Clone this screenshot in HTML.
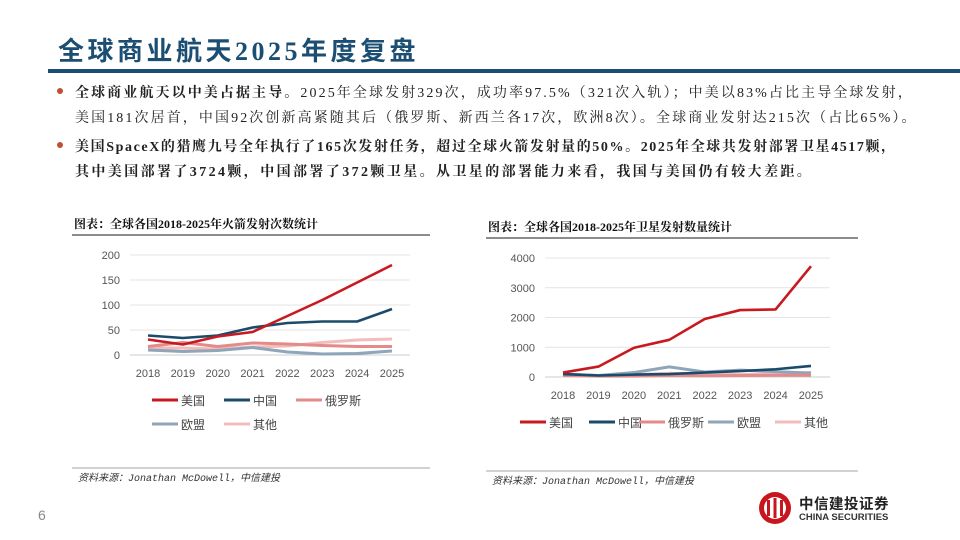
<!DOCTYPE html>
<html><head><meta charset="utf-8"><style>
body{margin:0;width:960px;height:540px;background:#fff;position:relative;overflow:hidden;font-family:"Liberation Sans","Noto Sans CJK SC",sans-serif}
.abs{position:absolute}
.title{left:58px;top:31px;font-size:26px;color:#1b4e72;font-family:"Liberation Serif","Noto Sans CJK SC",serif;font-weight:bold;letter-spacing:3.5px}
.bar{left:48px;top:69px;width:912px;height:4px;background:#1b4e72}
.bl{left:75px;font-size:14px;color:#222;font-family:"Liberation Serif","Noto Serif CJK SC",serif;white-space:nowrap;letter-spacing:2.1px}
.dot{width:6px;height:6px;border-radius:3px;background:#c0502f}
b{font-weight:bold}
</style></head><body>
<div class="abs title">全球商业航天2025年度复盘</div>
<div class="abs bar"></div>
<div class="abs dot" style="left:57px;top:88px"></div>
<div class="abs bl" style="top:82px"><b>全球商业航天以中美占据主导。</b>2025年全球发射329次，成功率97.5%（321次入轨）；中美以83%占比主导全球发射，</div>
<div class="abs bl" style="top:107px">美国181次居首，中国92次创新高紧随其后（俄罗斯、新西兰各17次，欧洲8次）。全球商业发射达215次（占比65%）。</div>
<div class="abs dot" style="left:57px;top:142px"></div>
<div class="abs bl" style="top:136px;font-weight:bold;letter-spacing:1.6px">美国SpaceX的猎鹰九号全年执行了165次发射任务，超过全球火箭发射量的50%。2025年全球共发射部署卫星4517颗，</div>
<div class="abs bl" style="top:161px;font-weight:bold;letter-spacing:2.4px">其中美国部署了3724颗，中国部署了372颗卫星。从卫星的部署能力来看，我国与美国仍有较大差距。</div>

<svg class="abs" style="left:0;top:0" width="960" height="540" id="svg"></svg>

<div class="abs" style="left:38px;top:507px;font-size:14px;color:#888">6</div>
<div class="abs" style="left:758px;top:491px">
<svg width="34" height="34"><circle cx="17" cy="17" r="16" fill="#c8161d"/><circle cx="17" cy="17" r="11" fill="#fff"/><rect x="9" y="9" width="3" height="16" fill="#c8161d"/><rect x="15.5" y="7" width="3" height="20" fill="#c8161d"/><rect x="22" y="9" width="3" height="16" fill="#c8161d"/></svg>
<div class="abs" style="left:41px;top:2px;font-size:14.5px;font-weight:bold;white-space:nowrap;color:#222;letter-spacing:0.5px">中信建投证券</div>
<div class="abs" style="left:41px;top:21px;font-size:9.5px;font-weight:bold;white-space:nowrap;color:#333">CHINA SECURITIES</div>
</div>
<script>
const years=['2018','2019','2020','2021','2022','2023','2024','2025'];
const seriesNames=['美国','中国','俄罗斯','欧盟','其他'];
const colors=['#c8191f','#1b4a6b','#e48a8a','#8fa5b8','#f3bcbc'];
const launchUS=[31,21,37,46,78,110,145,180];
const launchCN=[39,34,39,55,64,67,67,92];
const launchRU=[17,25,17,24,22,19,17,17];
const launchEU=[10,7,9,15,6,2,3,8];
const launchOT=[14,14,12,16,18,25,30,32];
const launchTicks=[0,50,100,150,200];
const satUS=[150,350,980,1250,1950,2250,2270,3724];
const satCN=[100,50,80,100,150,200,260,372];
const satRU=[50,30,30,50,40,50,60,60];
const satEU=[100,50,150,340,170,230,180,130];
const satOT=[90,50,80,120,100,80,100,150];
const satTicks=[0,1000,2000,3000,4000];
const NS='http://www.w3.org/2000/svg';
const svg=document.getElementById('svg');
function mk(t,a,txt){const e=document.createElementNS(NS,t);for(const k in a)e.setAttribute(k,a[k]);if(txt!==undefined)e.textContent=txt;svg.appendChild(e);return e;}
function chart(o){
  const sx=i=>o.x0+(o.x1-o.x0)*i/(years.length-1);
  const sy=v=>o.y0-(o.y0-o.y1)*v/o.max;
  let t=mk('text',{x:o.tx,y:o.ty,'font-size':12,'font-weight':'bold',fill:'#111','font-family':'"Liberation Serif","Noto Serif CJK SC",serif'},o.title);
  
  let u=mk('line',{x1:o.tx-2,x2:o.rx,y1:o.ty+7,y2:o.ty+7,stroke:'#666','stroke-width':1.5});
  
  o.ticks.forEach(v=>{
    let g=mk('line',{x1:o.gx0,x2:o.gx1,y1:sy(v),y2:sy(v),stroke:v==0?'#ccc':'#e4e4e4','stroke-width':1});
    
    let l=mk('text',{x:o.gx0-10,y:sy(v)+4,'font-size':11,fill:'#555','text-anchor':'end'},v);
    
  });
  years.forEach((y,i)=>{let l=mk('text',{x:sx(i),y:o.y0+22,'font-size':11,fill:'#555','text-anchor':'middle'},y);
    });
  for(let s=o.data.length-1;s>=0;s--){
    const d=o.data[s].map((v,i)=>(i?'L':'M')+sx(i)+','+sy(v)).join(' ');
    let p=mk('path',{d:d,fill:'none',stroke:colors[s],'stroke-width':s<2?2.6:3,'stroke-linejoin':'round'});
    
  }
  o.legend.forEach((L,s)=>{
    let ln=mk('line',{x1:L[0],x2:L[0]+26,y1:L[1],y2:L[1],stroke:colors[s],'stroke-width':3});
    
    let tx=mk('text',{x:L[0]+29,y:L[1]+5,'font-size':12,fill:'#444'},seriesNames[s]);
    
  });
  let b=mk('line',{x1:o.tx-2,x2:o.rx,y1:o.sy-13,y2:o.sy-13,stroke:'#888','stroke-width':0.8});
  
  let s=mk('text',{x:o.tx+4,y:o.sy,'font-size':10,'font-style':'italic',fill:'#333','font-family':'"Liberation Mono","Noto Sans CJK SC",monospace'},'资料来源：Jonathan McDowell，中信建投');
  
}
chart({id:'launch-chart',title:'图表：全球各国2018-2025年火箭发射次数统计',tx:74,ty:228,rx:430,x0:148,x1:392,gx0:130,gx1:410,y0:355,y1:255,max:200,ticks:launchTicks,
 data:[launchUS,launchCN,launchRU,launchEU,launchOT],legend:[[152,400],[224,400],[296,400],[152,424],[224,424]],sy:481});
chart({id:'satellite-chart',title:'图表：全球各国2018-2025年卫星发射数量统计',tx:488,ty:231,rx:858,x0:563,x1:811,gx0:545,gx1:830,y0:377,y1:258,max:4000,ticks:satTicks,
 data:[satUS,satCN,satRU,satEU,satOT],legend:[[520,422],[589,422],[639,422],[708,422],[775,422]],sy:484});
</script>
</body></html>
